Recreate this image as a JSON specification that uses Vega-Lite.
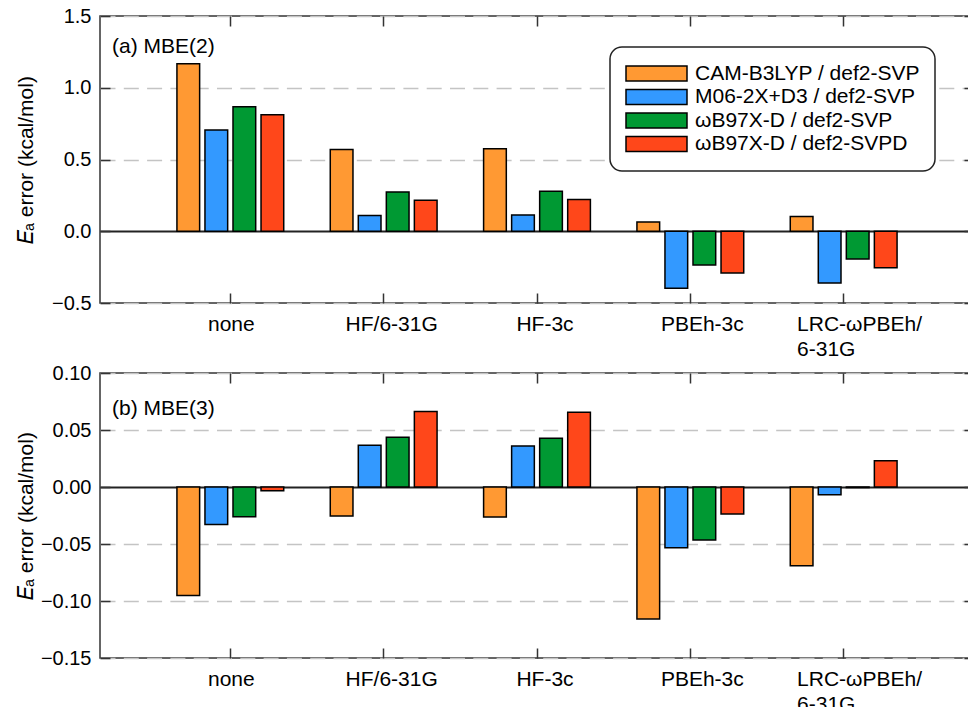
{
  "$schema": "https://vega.github.io/schema/vega-lite/v6.json",
  "padding": {"left": 14, "top": 5, "right": -8, "bottom": -8},
  "background": "white",
  "spacing": 2,
  "datasets": {
    "a": [
      {"group": "none", "method": "CAM-B3LYP / def2-SVP", "value": 1.167},
      {"group": "none", "method": "M06-2X+D3 / def2-SVP", "value": 0.705},
      {"group": "none", "method": "ωB97X-D / def2-SVP", "value": 0.867},
      {"group": "none", "method": "ωB97X-D / def2-SVPD", "value": 0.812},
      {"group": "HF/6-31G", "method": "CAM-B3LYP / def2-SVP", "value": 0.570},
      {"group": "HF/6-31G", "method": "M06-2X+D3 / def2-SVP", "value": 0.109},
      {"group": "HF/6-31G", "method": "ωB97X-D / def2-SVP", "value": 0.274},
      {"group": "HF/6-31G", "method": "ωB97X-D / def2-SVPD", "value": 0.216},
      {"group": "HF-3c", "method": "CAM-B3LYP / def2-SVP", "value": 0.575},
      {"group": "HF-3c", "method": "M06-2X+D3 / def2-SVP", "value": 0.114},
      {"group": "HF-3c", "method": "ωB97X-D / def2-SVP", "value": 0.279},
      {"group": "HF-3c", "method": "ωB97X-D / def2-SVPD", "value": 0.221},
      {"group": "PBEh-3c", "method": "CAM-B3LYP / def2-SVP", "value": 0.065},
      {"group": "PBEh-3c", "method": "M06-2X+D3 / def2-SVP", "value": -0.398},
      {"group": "PBEh-3c", "method": "ωB97X-D / def2-SVP", "value": -0.235},
      {"group": "PBEh-3c", "method": "ωB97X-D / def2-SVPD", "value": -0.291},
      {"group": "LRC-ωPBEh/6-31G", "method": "CAM-B3LYP / def2-SVP", "value": 0.102},
      {"group": "LRC-ωPBEh/6-31G", "method": "M06-2X+D3 / def2-SVP", "value": -0.360},
      {"group": "LRC-ωPBEh/6-31G", "method": "ωB97X-D / def2-SVP", "value": -0.193},
      {"group": "LRC-ωPBEh/6-31G", "method": "ωB97X-D / def2-SVPD", "value": -0.254}
    ],
    "b": [
      {"group": "none", "method": "CAM-B3LYP / def2-SVP", "value": -0.0952},
      {"group": "none", "method": "M06-2X+D3 / def2-SVP", "value": -0.0328},
      {"group": "none", "method": "ωB97X-D / def2-SVP", "value": -0.0261},
      {"group": "none", "method": "ωB97X-D / def2-SVPD", "value": -0.0032},
      {"group": "HF/6-31G", "method": "CAM-B3LYP / def2-SVP", "value": -0.0255},
      {"group": "HF/6-31G", "method": "M06-2X+D3 / def2-SVP", "value": 0.0366},
      {"group": "HF/6-31G", "method": "ωB97X-D / def2-SVP", "value": 0.0437},
      {"group": "HF/6-31G", "method": "ωB97X-D / def2-SVPD", "value": 0.0662},
      {"group": "HF-3c", "method": "CAM-B3LYP / def2-SVP", "value": -0.0264},
      {"group": "HF-3c", "method": "M06-2X+D3 / def2-SVP", "value": 0.0360},
      {"group": "HF-3c", "method": "ωB97X-D / def2-SVP", "value": 0.0428},
      {"group": "HF-3c", "method": "ωB97X-D / def2-SVPD", "value": 0.0656},
      {"group": "PBEh-3c", "method": "CAM-B3LYP / def2-SVP", "value": -0.1157},
      {"group": "PBEh-3c", "method": "M06-2X+D3 / def2-SVP", "value": -0.0533},
      {"group": "PBEh-3c", "method": "ωB97X-D / def2-SVP", "value": -0.0466},
      {"group": "PBEh-3c", "method": "ωB97X-D / def2-SVPD", "value": -0.0237},
      {"group": "LRC-ωPBEh/6-31G", "method": "CAM-B3LYP / def2-SVP", "value": -0.0691},
      {"group": "LRC-ωPBEh/6-31G", "method": "M06-2X+D3 / def2-SVP", "value": -0.0067},
      {"group": "LRC-ωPBEh/6-31G", "method": "ωB97X-D / def2-SVP", "value": -0.0005},
      {"group": "LRC-ωPBEh/6-31G", "method": "ωB97X-D / def2-SVPD", "value": 0.0231}
    ]
  },
  "vconcat": [
    {
      "width": 874,
      "height": 287,
      "title": {"text": "(a) MBE(2)", "anchor": "start", "orient": "top", "frame": "group", "offset": -37, "dx": 12, "dy": 31, "baseline": "alphabetic", "fontSize": 21, "fontWeight": "normal", "font": "Liberation Sans", "color": "black"},
      "data": {"name": "a"},
      "layer": [
        {
          "mark": {"type": "bar", "stroke": "black", "strokeWidth": 1.5},
          "encoding": {
            "x": {"field": "group", "type": "nominal", "sort": ["none", "HF/6-31G", "HF-3c", "PBEh-3c", "LRC-ωPBEh/6-31G"],
              "scale": {"paddingInner": 0, "paddingOuter": 0.35},
              "axis": {"orient": "bottom", "title": null, "labelAngle": 0, "ticks": false, "labelPadding": 10, "labelOverlap": false, "labelLineHeight": 25,
                "labelExpr": "datum.value == 'LRC-ωPBEh/6-31G' ? ['LRC-ωPBEh/', '6-31G'] : datum.value",
                "labelAlign": {"condition": {"test": "datum.value == 'LRC-ωPBEh/6-31G'", "value": "left"}, "value": "center"},
                "labelOffset": {"condition": [{"test": "datum.value == 'LRC-ωPBEh/6-31G'", "value": -46.6}, {"test": "datum.value == 'PBEh-3c'", "value": 12}, {"test": "datum.value == 'HF/6-31G' || datum.value == 'HF-3c'", "value": 8}], "value": 1}}},
            "xOffset": {"field": "method", "type": "nominal", "sort": ["CAM-B3LYP / def2-SVP", "M06-2X+D3 / def2-SVP", "ωB97X-D / def2-SVP", "ωB97X-D / def2-SVPD"],
              "scale": {"paddingInner": 0.19, "paddingOuter": 0.83}},
            "y": {"field": "value", "type": "quantitative",
              "scale": {"domain": [-0.5, 1.5], "nice": false, "zero": false},
              "axis": {"orient": "left", "values": [-0.5, 0, 0.5, 1, 1.5], "format": ".1f", "ticks": false, "labelPadding": 9,
                "grid": true, "gridColor": {"condition": {"test": "datum.value === 0", "value": "#222222"}, "value": "#c4c4c4"},
                "gridDash": {"condition": {"test": "datum.value === 0", "value": []}, "value": [15, 8.3]},
                "gridWidth": {"condition": {"test": "datum.value === 0", "value": 2}, "value": 1.5},
                "title": "𝐸ₐ error (kcal/mol)", "titleX": -68, "titleY": 143.5, "titleBaseline": "alphabetic", "titleAngle": -90}},
            "color": {"field": "method", "type": "nominal",
              "scale": {"domain": ["CAM-B3LYP / def2-SVP", "M06-2X+D3 / def2-SVP", "ωB97X-D / def2-SVP", "ωB97X-D / def2-SVPD"], "range": ["#FF9933", "#3399FF", "#009933", "#FF471A"]},
              "legend": {"orient": "none", "legendX": 510, "legendY": 31, "title": null}}
          }
        },
        {
          "mark": {"type": "rule", "opacity": 0},
          "encoding": {
            "x": {"field": "group", "type": "nominal", "sort": ["none", "HF/6-31G", "HF-3c", "PBEh-3c", "LRC-ωPBEh/6-31G"],
              "axis": {"orient": "top", "title": null, "labels": false, "ticks": true, "tickSize": 10, "offset": -10, "zindex": 1}},
            "y": {"field": "value", "type": "quantitative",
              "axis": {"orient": "right", "title": null, "labels": false, "ticks": true, "tickSize": 10, "offset": -10, "grid": false, "zindex": 1, "values": [-0.5, 0, 0.5, 1, 1.5]}}
          }
        },
        {
          "mark": {"type": "rule", "opacity": 0},
          "encoding": {
            "x": {"field": "group", "type": "nominal", "sort": ["none", "HF/6-31G", "HF-3c", "PBEh-3c", "LRC-ωPBEh/6-31G"],
              "axis": {"orient": "bottom", "title": null, "labels": false, "ticks": true, "tickSize": 10, "offset": -10, "zindex": 1}},
            "y": {"field": "value", "type": "quantitative",
              "axis": {"orient": "left", "title": null, "labels": false, "ticks": true, "tickSize": 10, "offset": -10, "grid": false, "zindex": 1, "values": [-0.5, 0, 0.5, 1, 1.5]}}
          }
        }
      ],
      "resolve": {"axis": {"x": "independent", "y": "independent"}}
    },
    {
      "width": 874,
      "height": 285,
      "title": {"text": "(b) MBE(3)", "anchor": "start", "orient": "top", "frame": "group", "offset": -42, "dx": 12, "dy": 31, "baseline": "alphabetic", "fontSize": 21, "fontWeight": "normal", "font": "Liberation Sans", "color": "black"},
      "data": {"name": "b"},
      "layer": [
        {
          "mark": {"type": "bar", "stroke": "black", "strokeWidth": 1.5},
          "encoding": {
            "x": {"field": "group", "type": "nominal", "sort": ["none", "HF/6-31G", "HF-3c", "PBEh-3c", "LRC-ωPBEh/6-31G"],
              "scale": {"paddingInner": 0, "paddingOuter": 0.35},
              "axis": {"orient": "bottom", "title": null, "labelAngle": 0, "ticks": false, "labelPadding": 10, "labelOverlap": false, "labelLineHeight": 25,
                "labelExpr": "datum.value == 'LRC-ωPBEh/6-31G' ? ['LRC-ωPBEh/', '6-31G'] : datum.value",
                "labelAlign": {"condition": {"test": "datum.value == 'LRC-ωPBEh/6-31G'", "value": "left"}, "value": "center"},
                "labelOffset": {"condition": [{"test": "datum.value == 'LRC-ωPBEh/6-31G'", "value": -46.6}, {"test": "datum.value == 'PBEh-3c'", "value": 12}, {"test": "datum.value == 'HF/6-31G' || datum.value == 'HF-3c'", "value": 8}], "value": 1}}},
            "xOffset": {"field": "method", "type": "nominal", "sort": ["CAM-B3LYP / def2-SVP", "M06-2X+D3 / def2-SVP", "ωB97X-D / def2-SVP", "ωB97X-D / def2-SVPD"],
              "scale": {"paddingInner": 0.19, "paddingOuter": 0.83}},
            "y": {"field": "value", "type": "quantitative",
              "scale": {"domain": [-0.15, 0.1], "nice": false, "zero": false},
              "axis": {"orient": "left", "values": [-0.15, -0.1, -0.05, 0, 0.05, 0.1], "format": ".2f", "ticks": false, "labelPadding": 9,
                "grid": true, "gridColor": {"condition": {"test": "datum.value === 0", "value": "#222222"}, "value": "#c4c4c4"},
                "gridDash": {"condition": {"test": "datum.value === 0", "value": []}, "value": [15, 8.3]},
                "gridWidth": {"condition": {"test": "datum.value === 0", "value": 2}, "value": 1.5},
                "title": "𝐸ₐ error (kcal/mol)", "titleX": -68, "titleY": 142.5, "titleBaseline": "alphabetic", "titleAngle": -90}},
            "color": {"field": "method", "type": "nominal",
              "scale": {"domain": ["CAM-B3LYP / def2-SVP", "M06-2X+D3 / def2-SVP", "ωB97X-D / def2-SVP", "ωB97X-D / def2-SVPD"], "range": ["#FF9933", "#3399FF", "#009933", "#FF471A"]},
              "legend": null}
          }
        },
        {
          "mark": {"type": "rule", "opacity": 0},
          "encoding": {
            "x": {"field": "group", "type": "nominal", "sort": ["none", "HF/6-31G", "HF-3c", "PBEh-3c", "LRC-ωPBEh/6-31G"],
              "axis": {"orient": "top", "title": null, "labels": false, "ticks": true, "tickSize": 10, "offset": -10, "zindex": 1}},
            "y": {"field": "value", "type": "quantitative",
              "axis": {"orient": "right", "title": null, "labels": false, "ticks": true, "tickSize": 10, "offset": -10, "grid": false, "zindex": 1, "values": [-0.15, -0.1, -0.05, 0, 0.05, 0.1]}}
          }
        },
        {
          "mark": {"type": "rule", "opacity": 0},
          "encoding": {
            "x": {"field": "group", "type": "nominal", "sort": ["none", "HF/6-31G", "HF-3c", "PBEh-3c", "LRC-ωPBEh/6-31G"],
              "axis": {"orient": "bottom", "title": null, "labels": false, "ticks": true, "tickSize": 10, "offset": -10, "zindex": 1}},
            "y": {"field": "value", "type": "quantitative",
              "axis": {"orient": "left", "title": null, "labels": false, "ticks": true, "tickSize": 10, "offset": -10, "grid": false, "zindex": 1, "values": [-0.15, -0.1, -0.05, 0, 0.05, 0.1]}}
          }
        }
      ],
      "resolve": {"axis": {"x": "independent", "y": "independent"}}
    }
  ],
  "resolve": {"scale": {"color": "independent"}},
  "config": {
    "font": "Liberation Sans",
    "view": {"stroke": "#333333", "strokeWidth": 1.5},
    "axis": {"labelFont": "Liberation Sans", "labelFontSize": 20, "labelColor": "black", "tickColor": "#333333", "tickWidth": 1.5, "domain": false,
      "titleFont": "Liberation Sans", "titleFontSize": 21, "titleFontWeight": "normal", "titleColor": "black"},
    "axisX": {"labelFontSize": 21},
    "legend": {"labelFont": "Liberation Sans", "labelFontSize": 21, "labelColor": "black", "labelLimit": 400,
      "symbolType": "M-1,-0.246H1V0.246H-1Z", "symbolSize": 3721, "symbolStrokeColor": "black", "symbolStrokeWidth": 1.5, "symbolOpacity": 1,
      "strokeColor": "#222222", "strokeWidth": 1.5, "cornerRadius": 12, "padding": 15, "fillColor": "white",
      "clipHeight": 23, "rowPadding": 0.5, "labelOffset": 7}
  }
}
